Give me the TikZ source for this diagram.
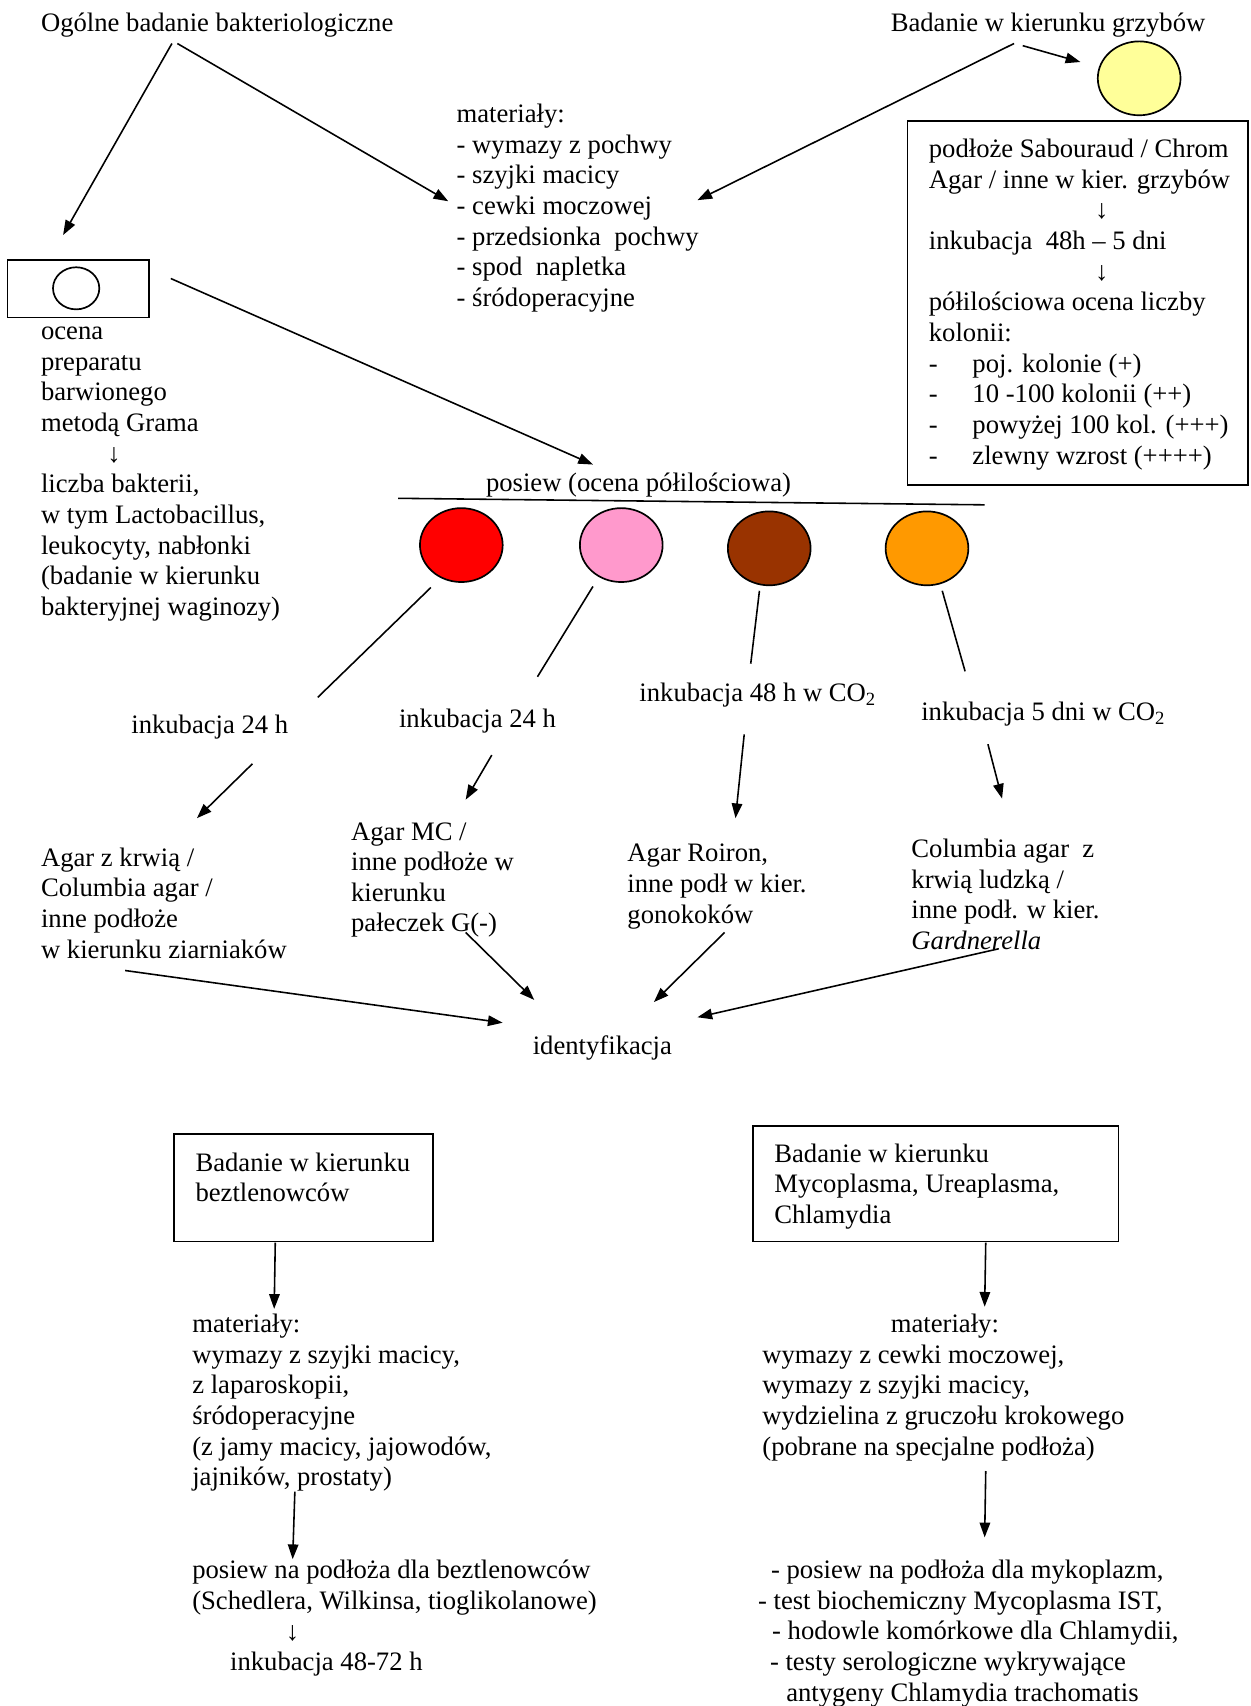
\documentclass[tikz,border=0pt]{standalone}
\usepackage{fontspec}
\setmainfont{Liberation Serif}
\usetikzlibrary{arrows.meta,shapes.geometric}
\definecolor{platered}{HTML}{FF0000}
\definecolor{platepink}{HTML}{FF99CC}
\definecolor{platebrown}{HTML}{993300}
\definecolor{plateorange}{HTML}{FF9900}
\definecolor{plateyellow}{HTML}{FFFF99}
\tikzset{every node/.append style={font=\fontsize{12.66}{14.55}\selectfont}}

\begin{document}
\begin{tikzpicture}[x=0.5168pt,y=-0.5168pt,>={Triangle[length=7pt,width=5pt]},line width=0.75pt,
  txt/.style={anchor=base west,inner sep=0pt,align=left,yshift=-1.3pt},
  plate/.style={ellipse,draw,line width=0.8pt,minimum width=39.3pt,minimum height=35.1pt,inner sep=0pt}]
  \useasboundingbox (0,0) rectangle (1149,1568);
  % text nodes sit on the baseline of their last line
  \node[txt] (ogolne) at (37,26) {Ogólne badanie bakteriologiczne};
  \node[txt] (grzyby) at (818,26) {Badanie w kierunku grzybów};
  \node[txt] (material) at (419,279) {materiały:\\- wymazy z pochwy\\- szyjki macicy\\- cewki moczowej\\- przedsionka\ \ pochwy\\- spod\ \ napletka\\- śródoperacyjne};
  % fungi branch
  \node[plate,fill=plateyellow] (yellow) at (1047,72) {};
  \draw (834,111) rectangle (1147,446);
  \node[txt] (sabouraud) at (853,424) {podłoże Sabouraud / Chrom\\Agar / inne w kier. grzybów\\\hspace*{79pt}↓\\inkubacja\ \ 48h – 5 dni\\\hspace*{79pt}↓\\półilościowa ocena liczby\\kolonii:\\-\hspace{16.5pt}poj. kolonie (+)\\-\hspace{16.5pt}10 -100 kolonii (++)\\-\hspace{16.5pt}powyżej 100 kol. (+++)\\-\hspace{16.5pt}zlewny wzrost (++++)};
  % Gram slide
  \draw (7,239) rectangle (137,292);
  \node[plate,minimum width=22pt,minimum height=20pt] (slide) at (70,265) {};
  \node[txt] (gram) at (37,563) {ocena\\preparatu\\barwionego\\metodą Grama\\\hspace*{31.5pt}↓\\liczba bakterii,\\w tym Lactobacillus,\\leukocyty, nabłonki\\(badanie w kierunku\\bakteryjnej waginozy)};
  % culture plates
  \node[txt] (posiew) at (446,449) {posiew (ocena półilościowa)};
  \coordinate (barL) at (366,458);
  \coordinate (barR) at (905,464);
  \draw (barL) -- (barR);
  \node[plate,fill=platered] (red) at (424,501) {};
  \node[plate,fill=platepink] (pink) at (571,501) {};
  \node[plate,fill=platebrown] (brown) at (707,504) {};
  \node[plate,fill=plateorange] (orange) at (852,504) {};
  \node[txt] (ink1) at (120,672) {inkubacja 24 h};
  \node[txt] (ink2) at (366,666) {inkubacja 24 h};
  \node[txt] (ink3) at (587,642) {inkubacja 48 h w CO\textsubscript{2}};
  \node[txt] (ink4) at (846,660) {inkubacja 5 dni w CO\textsubscript{2}};
  \node[txt] (agar1) at (37,878) {Agar z krwią /\\Columbia agar /\\inne podłoże\\w kierunku ziarniaków};
  \node[txt] (agar2) at (322,854) {Agar MC /\\inne podłoże w\\kierunku\\pałeczek G(-)};
  \node[txt] (agar3) at (576,846) {Agar Roiron,\\inne podł w kier.\\gonokoków};
  \node[txt] (agar4) at (837,870) {Columbia agar\ \ z\\krwią ludzką /\\inne podł. w kier.\\\textit{Gardnerella}};
  \node[txt] (ident) at (489,967) {identyfikacja};
  % anaerobes and Mycoplasma / Chlamydia
  \draw (160,1042) rectangle (398,1141);
  \node[txt] (beztbox) at (179,1102) {Badanie w kierunku\\beztlenowców};
  \node[txt] (beztmat) at (176,1363) {materiały:\\wymazy z szyjki macicy,\\z laparoskopii,\\śródoperacyjne\\(z jamy macicy, jajowodów,\\jajników, prostaty)};
  \node[txt] (beztpos) at (176,1533) {posiew na podłoża dla beztlenowców\\(Schedlera, Wilkinsa, tioglikolanowe)\\\hspace*{44.4pt}↓\\\hspace*{18pt}inkubacja 48-72 h};
  \draw (692,1035) rectangle (1028,1141);
  \node[txt] (mycobox) at (711,1122) {Badanie w kierunku\\Mycoplasma, Ureaplasma,\\Chlamydia};
  \node[txt] (mycomat) at (700,1335) {\hspace*{61pt}materiały:\\wymazy z cewki moczowej,\\wymazy z szyjki macicy,\\wydzielina z gruczołu krokowego\\(pobrane na specjalne podłoża)};
  \node[txt] (mycotest) at (696,1561) {\hspace*{6.2pt}- posiew na podłoża dla mykoplazm,\\- test biochemiczny Mycoplasma IST,\\\hspace*{6.7pt}- hodowle komórkowe dla Chlamydii,\\\hspace*{5.7pt}- testy serologiczne wykrywające\\\hspace*{13.4pt}antygeny Chlamydia trachomatis};
  % connector ends
  \coordinate (ogA) at (158,40);  \coordinate (slideIn) at (58,216);
  \coordinate (ogB) at (163,40);  \coordinate (matL) at (412,185);
  \coordinate (grA) at (932,40);  \coordinate (matR) at (641,184);
  \coordinate (grB) at (940,42);  \coordinate (yelIn) at (993,57);
  \coordinate (slideOut) at (157,256); \coordinate (posIn) at (545,427);
  \coordinate (redOut) at (396,540);    \coordinate (redEnd) at (292,641);
  \coordinate (pinkOut) at (545,539);   \coordinate (pinkEnd) at (494,622);
  \coordinate (brownOut) at (698,543);  \coordinate (brownEnd) at (690,610);
  \coordinate (orangeOut) at (866,543); \coordinate (orangeEnd) at (887,617);
  \coordinate (ink1s) at (232,702); \coordinate (agar1n) at (181,752);
  \coordinate (ink2s) at (452,694); \coordinate (agar2n) at (428,735);
  \coordinate (ink3s) at (684,675); \coordinate (agar3n) at (676,752);
  \coordinate (ink4s) at (908,684); \coordinate (agar4n) at (921,734);
  \coordinate (agar1s) at (115,892); \coordinate (identA) at (462,940);
  \coordinate (agar2s) at (428,857); \coordinate (identB) at (491,919);
  \coordinate (agar3s) at (666,857); \coordinate (identC) at (601,921);
  \coordinate (agar4s) at (918,872); \coordinate (identD) at (641,935);
  \coordinate (beztS) at (253,1142); \coordinate (beztmatN) at (252,1203);
  \coordinate (beztmatS) at (271,1371); \coordinate (beztposN) at (269,1433);
  \coordinate (mycoS) at (906,1142); \coordinate (mycomatN) at (905,1201);
  \coordinate (mycomatS) at (906,1352); \coordinate (mycotestN) at (905,1413);
  % connectors
  \draw[->] (ogA) -- (slideIn);
  \draw[->] (ogB) -- (matL);
  \draw[->] (grA) -- (matR);
  \draw[->] (grB) -- (yelIn);
  \draw[->] (slideOut) -- (posIn);
  \foreach \a/\b in {redOut/redEnd,pinkOut/pinkEnd,brownOut/brownEnd,orangeOut/orangeEnd}
    \draw (\a) -- (\b);
  \foreach \a/\b in {ink1s/agar1n,ink2s/agar2n,ink3s/agar3n,ink4s/agar4n,
    agar1s/identA,agar2s/identB,agar3s/identC,agar4s/identD,
    beztS/beztmatN,beztmatS/beztposN,mycoS/mycomatN,mycomatS/mycotestN}
    \draw[->] (\a) -- (\b);
\end{tikzpicture}
\end{document}
